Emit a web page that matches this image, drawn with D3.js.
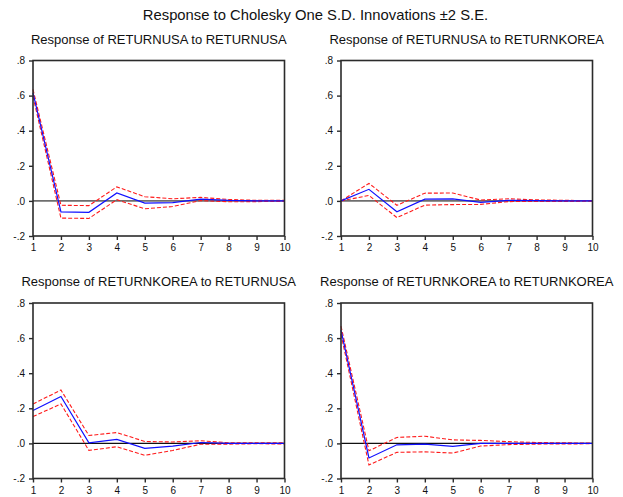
<!DOCTYPE html>
<html>
<head>
<meta charset="utf-8">
<script src="https://cdn.jsdelivr.net/npm/d3@7"></script>
<style>
  html, body { margin: 0; padding: 0; background: #fff; }
  svg { display: block; font-family: "Liberation Sans", Arial, sans-serif; }
</style>
</head>
<body>
<svg id="chart" width="623" height="497"></svg>
<script>
// Impulse response horizon (periods)
const periods = [1, 2, 3, 4, 5, 6, 7, 8, 9, 10];

// Y axis ticks and their labels
const yTicks = [0.8, 0.6, 0.4, 0.2, 0.0, -0.2];
const yTickLabels = [".8", ".6", ".4", ".2", ".0", "-.2"];

const mainTitle = "Response to Cholesky One S.D. Innovations \u00b12 S.E.";
const panelTitles = [
  "Response of RETURNUSA to RETURNUSA",
  "Response of RETURNUSA to RETURNKOREA",
  "Response of RETURNKOREA to RETURNUSA",
  "Response of RETURNKOREA to RETURNKOREA"
];

// Response of RETURNUSA to RETURNUSA
const usaUsaMean  = [0.615, -0.063, -0.065, 0.045, -0.013, -0.010, 0.010, 0.003, 0.000, 0.000];
const usaUsaUpper = [0.635, -0.025, -0.027, 0.080,  0.024,  0.012, 0.020, 0.008, 0.003, 0.004];
const usaUsaLower = [0.595, -0.098, -0.100, 0.007, -0.045, -0.032, 0.002, -0.005, -0.004, -0.003];

// Response of RETURNUSA to RETURNKOREA
const usaKorMean  = [0.000, 0.066, -0.062, 0.010, 0.012, -0.008, 0.003, 0.002, 0.000, 0.000];
const usaKorUpper = [0.000, 0.100, -0.025, 0.044, 0.045,  0.005, 0.012, 0.006, 0.003, 0.002];
const usaKorLower = [0.000, 0.031, -0.095, -0.024, -0.021, -0.020, -0.004, -0.003, -0.003, -0.002];

// Response of RETURNKOREA to RETURNUSA
const korUsaMean  = [0.187, 0.267, 0.003, 0.023, -0.028, -0.015, 0.005, 0.000, 0.000, 0.000];
const korUsaUpper = [0.225, 0.304, 0.045, 0.062,  0.011,  0.008, 0.015, 0.004, 0.003, 0.003];
const korUsaLower = [0.153, 0.225, -0.040, -0.019, -0.068, -0.040, -0.005, -0.004, -0.002, -0.003];

// Response of RETURNKOREA to RETURNKOREA
const korKorMean  = [0.645, -0.083, -0.008, -0.004, -0.017, 0.000, 0.000, 0.000, 0.000, 0.000];
const korKorUpper = [0.668, -0.042, 0.034, 0.041, 0.020, 0.017, 0.010, 0.005, 0.003, 0.002];
const korKorLower = [0.622, -0.123, -0.051, -0.048, -0.055, -0.015, -0.007, -0.004, -0.003, -0.002];

const panels = [
  { title: panelTitles[0], mean: usaUsaMean, upper: usaUsaUpper, lower: usaUsaLower,
    x0: 33, x1: 284.5, y0: 60.5, y1: 236, zero: "#6e6e6e", zeroW: 1.6 },
  { title: panelTitles[1], mean: usaKorMean, upper: usaKorUpper, lower: usaKorLower,
    x0: 341, x1: 592.5, y0: 60.5, y1: 236, zero: "#6e6e6e", zeroW: 1.6 },
  { title: panelTitles[2], mean: korUsaMean, upper: korUsaUpper, lower: korUsaLower,
    x0: 33, x1: 284.5, y0: 303, y1: 478.5, zero: "#111", zeroW: 1.1 },
  { title: panelTitles[3], mean: korKorMean, upper: korKorUpper, lower: korKorLower,
    x0: 341, x1: 592.5, y0: 303, y1: 478.5, zero: "#111", zeroW: 1.1 }
];

const svg = d3.select("#chart");

svg.append("text")
  .attr("x", 315.5).attr("y", 20)
  .attr("text-anchor", "middle")
  .attr("font-size", 14.8)
  .attr("fill", "#111")
  .text(mainTitle);

panels.forEach(p => {
  const x = d3.scaleLinear().domain([1, 10]).range([p.x0, p.x1]);
  const y = d3.scaleLinear().domain([-0.2, 0.8]).range([p.y1, p.y0]);
  const g = svg.append("g");

  g.append("text")
    .attr("x", (p.x0 + p.x1) / 2).attr("y", p.y0 - 17)
    .attr("text-anchor", "middle")
    .attr("font-size", 13)
    .attr("fill", "#111")
    .text(p.title);

  // zero reference line
  g.append("line")
    .attr("x1", p.x0).attr("x2", p.x1)
    .attr("y1", y(0)).attr("y2", y(0))
    .attr("stroke", p.zero).attr("stroke-width", p.zeroW);

  const line = d3.line().x((d, i) => x(periods[i])).y(d => y(d));

  g.append("path").datum(p.upper)
    .attr("d", line).attr("fill", "none")
    .attr("stroke", "#ff1a1a").attr("stroke-width", 1.1)
    .attr("stroke-dasharray", "4,2");
  g.append("path").datum(p.lower)
    .attr("d", line).attr("fill", "none")
    .attr("stroke", "#ff1a1a").attr("stroke-width", 1.1)
    .attr("stroke-dasharray", "4,2");
  g.append("path").datum(p.mean)
    .attr("d", line).attr("fill", "none")
    .attr("stroke", "#1010ff").attr("stroke-width", 1.2);

  // frame
  g.append("rect")
    .attr("x", p.x0).attr("y", p.y0)
    .attr("width", p.x1 - p.x0).attr("height", p.y1 - p.y0)
    .attr("fill", "none").attr("stroke", "#2b2b2b").attr("stroke-width", 1.6);

  const xAxis = g.append("g")
    .attr("transform", `translate(0,${p.y1})`)
    .call(d3.axisBottom(x).tickValues(periods).tickFormat(d3.format("d"))
      .tickSize(4).tickPadding(4));
  const yAxis = g.append("g")
    .attr("transform", `translate(${p.x0},0)`)
    .call(d3.axisLeft(y).tickValues(yTicks)
      .tickFormat((d, i) => yTickLabels[i]).tickSize(4).tickPadding(4));

  [xAxis, yAxis].forEach(a => {
    a.select(".domain").remove();
    a.selectAll(".tick line").attr("stroke", "#2b2b2b").attr("stroke-width", 1.4);
    a.selectAll(".tick text").attr("font-size", 10).attr("fill", "#111")
      .attr("font-family", "\"Liberation Sans\", Arial, sans-serif");
  });
});
</script>
</body>
</html>
